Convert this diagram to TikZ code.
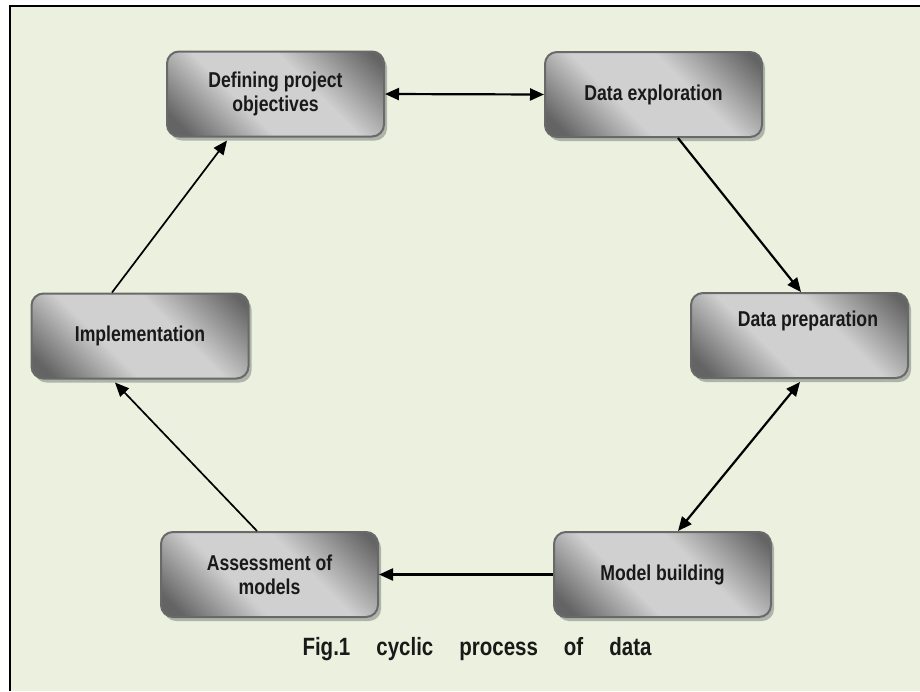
\documentclass[tikz,border=0pt]{standalone}
\usepackage{fontspec}
\setmainfont{Liberation Sans}[FakeStretch=0.82]
\usetikzlibrary{arrows.meta,shadows,calc}
\definecolor{bg}{HTML}{EBF1DE}
\definecolor{bdark}{RGB}{100,100,100}
\definecolor{blight}{RGB}{208,208,208}
\definecolor{bborder}{RGB}{105,105,105}
\definecolor{shadowc}{RGB}{175,180,170}
\pgfdeclarehorizontalshading{boxshade}{100bp}{color(0bp)=(bdark); color(20bp)=(bdark); color(40bp)=(blight); color(60bp)=(blight); color(82bp)=(bdark); color(100bp)=(bdark)}
\tikzset{
  procbox/.style={draw=bborder, line width=2pt, rounded corners=12pt,
    shading=boxshade, shading angle=45,
    minimum width=217pt, minimum height=85pt, inner sep=0pt,
    font=\fontsize{21.5}{24}\selectfont\bfseries, align=center, text=black!90,
    drop shadow={shadow xshift=3pt, shadow yshift=-4pt, fill=shadowc, opacity=1}},
  txt/.style={font=\fontsize{21.5}{24}\selectfont\bfseries, text=black!90, inner sep=0pt},
  link/.style={line width=2.2pt, -{Triangle[length=14pt,width=12pt]}},
  dlink/.style={line width=2.2pt, {Triangle[length=14pt,width=12pt]}-{Triangle[length=14pt,width=12pt]}},
  thinlink/.style={line width=1.7pt, -{Triangle[length=14pt,width=12pt]}},
}
\begin{document}
\begin{tikzpicture}[x=1pt,y=-1pt]
\useasboundingbox (0,0) rectangle (920,691);
\fill[white] (0,0) rectangle (920,691);
\fill[bg] (10,6) rectangle (920,691);
\draw[line width=2pt] (10,691) coordinate (bl) -- (10,6) coordinate (tl) -- (920,6) coordinate (tr);

\node[procbox] (def) at (275.5,94) {Defining project\\objectives};
\node[procbox] (exp) at (653.5,94.5) {Data exploration};
\node[procbox] (prep) at (799.5,335.5) {};
\node[txt] (preptext) at (808,321) {Data preparation};
\node[procbox] (impl) at (140,336) {Implementation};
\node[procbox] (assess) at (269.5,574.5) {Assessment of\\models};
\node[procbox] (model) at (662.5,574.5) {Model building};

\node[font=\fontsize{25}{28}\selectfont\bfseries, text=black!90, inner sep=0pt] (caption) at (477,649)
  {Fig.1\hspace{26pt}cyclic\hspace{26pt}process\hspace{26pt}of\hspace{26pt}data};

\draw[dlink] (def.east) -- (exp.west);
\draw[link] ([xshift=24.5pt]exp.south) -- ([xshift=1.5pt]prep.north);
\draw[dlink] ([xshift=0.5pt,yshift=-3pt]prep.south) -- ([xshift=15.5pt]model.north);
\draw[link] (model.west) -- (assess.east);
\draw[thinlink] ([xshift=-12.5pt]assess.north) -- ([xshift=-25pt,yshift=-3pt]impl.south);
\draw[thinlink] ([xshift=-28pt]impl.north) -- ([xshift=-48.5pt,yshift=-3pt]def.south);
\end{tikzpicture}
\end{document}
